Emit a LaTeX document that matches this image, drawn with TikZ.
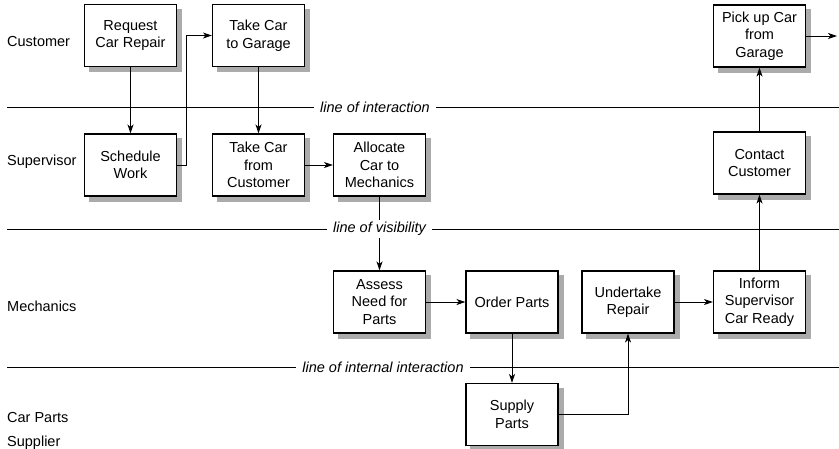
\documentclass[tikz,border=0pt]{standalone}
\usepackage{fontspec}
\setmainfont{Liberation Sans}
\usetikzlibrary{arrows.meta,backgrounds}
\tikzset{
  basenode/.style = {align=center, inner sep=2pt, text centered, font=\fontsize{14.5}{17.5}\selectfont},
  task_node/.style = {basenode, rectangle, draw=black, line width=1.1pt, fill=white, minimum width=92pt, minimum height=62pt},
  shadow_box/.style = {fill=black!33},
  lane_node/.style = {basenode, anchor=west, align=left, inner sep=0pt},
  line_node/.style = {basenode, fill=white, inner xsep=6pt, font=\fontsize{14.5}{17.5}\selectfont\itshape},
  sep_line/.style = {line width=1pt},
  flow/.style = {->, line width=0.9pt},
}

\begin{document}
\begin{tikzpicture}[x=1pt, y=-1pt, >={Stealth[length=9pt,width=6pt,inset=2.5pt]}]
    \useasboundingbox (0,0) rectangle (839,448);

    % swimlanes
    \node [lane_node] (l_cust) at (7,42) {Customer};
    \node [lane_node] (l_sup) at (7,162) {Supervisor};
    \node [lane_node] (l_mech) at (7,306) {Mechanics};
    \node [lane_node] (l_parts) at (7,431) {Car Parts\\[6pt]Supplier};

    % tasks
    \node [task_node] (request) at (130.5,35.5) {Request\\Car Repair};
    \node [task_node] (to_garage) at (258.5,35.5) {Take Car\\to Garage};
    \node [task_node] (pickup) at (759.5,36) {Pick up Car\\from\\Garage};
    \node [task_node] (schedule) at (130.5,165) {Schedule\\Work};
    \node [task_node] (from_cust) at (258.5,165) {Take Car\\from\\Customer};
    \node [task_node] (allocate) at (379.5,165) {Allocate\\Car to\\Mechanics};
    \node [task_node] (contact) at (759.5,163) {Contact\\Customer};
    \node [task_node] (assess) at (379.5,302) {Assess\\Need for\\Parts};
    \node [task_node] (order) at (512,302) {Order Parts};
    \node [task_node] (undertake) at (628,302) {Undertake\\Repair};
    \node [task_node] (inform) at (759.5,302) {Inform\\Supervisor\\Car Ready};
    \node [task_node] (supply) at (512,414.5) {Supply\\Parts};
    \coordinate (done) at (837,36);

    % shadows
    \begin{scope}[on background layer]
      \foreach \n in {request,to_garage,pickup,schedule,from_cust,allocate,contact,assess,order,undertake,inform,supply}
        \fill [shadow_box] ([shift={(5pt,-5pt)}]\n.south west) rectangle ([shift={(5pt,-5pt)}]\n.north east);
    \end{scope}

    % flow
    \draw [flow] (request) -- (schedule);
    \draw [flow] (schedule.east) -- ++(9,0) |- (to_garage.west);
    \draw [flow] (to_garage) -- (from_cust);
    \draw [flow] (from_cust) -- (allocate);
    \draw [flow] (allocate) -- (assess);
    \draw [flow] (assess) -- (order);
    \draw [flow] (order) -- (supply);
    \draw [flow] (supply.east) -| (undertake.south);
    \draw [flow] (undertake) -- (inform);
    \draw [flow] (inform) -- (contact);
    \draw [flow] (contact) -- (pickup);
    \draw [flow] (pickup.east) -- (done);

    % lines
    \node [line_node] (interaction) at (375,107) {line of interaction};
    \node [line_node] (visibility) at (379.5,229) {line of visibility};
    \node [line_node] (internal) at (383,367) {line of internal interaction};
    \draw [sep_line] (7,107) -- (interaction.west) (interaction.east) -- (839,107);
    \draw [sep_line] (7,229) -- (visibility.west) (visibility.east) -- (839,229);
    \draw [sep_line] (7,367) -- (internal.west) (internal.east) -- (839,367);
\end{tikzpicture}
\end{document}
